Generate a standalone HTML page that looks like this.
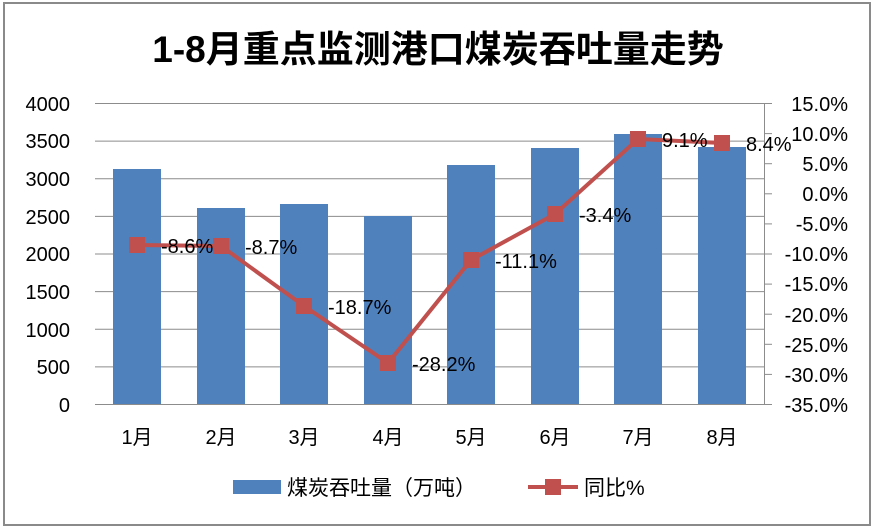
<!DOCTYPE html>
<html><head><meta charset="utf-8"><style>
html,body{margin:0;padding:0;background:#fff;}
svg{display:block;font-family:"Liberation Sans","Noto Sans CJK SC",sans-serif;}
</style></head><body>
<svg width="876" height="530" viewBox="0 0 876 530" xmlns="http://www.w3.org/2000/svg">
<rect x="4" y="3" width="866" height="522" fill="#fff" stroke="#8a8a8a" stroke-width="2"/>
<text x="438" y="62" text-anchor="middle" font-size="37" font-weight="bold" fill="#000">1-8月重点监测港口煤炭吞吐量走势</text>
<g stroke="#8c8c8c" stroke-width="1">
<line x1="95" y1="103.5" x2="764" y2="103.5"/>
<line x1="95" y1="141.1" x2="764" y2="141.1"/>
<line x1="95" y1="178.8" x2="764" y2="178.8"/>
<line x1="95" y1="216.4" x2="764" y2="216.4"/>
<line x1="95" y1="254" x2="764" y2="254"/>
<line x1="95" y1="291.6" x2="764" y2="291.6"/>
<line x1="95" y1="329.2" x2="764" y2="329.2"/>
<line x1="95" y1="366.9" x2="764" y2="366.9"/>
<line x1="95" y1="404.5" x2="764" y2="404.5"/>
<line x1="764.5" y1="103" x2="764.5" y2="404"/>
</g>
<g stroke="#8c8c8c" stroke-width="1">
<line x1="764" y1="103.5" x2="772" y2="103.5"/><line x1="764" y1="133.6" x2="772" y2="133.6"/>
<line x1="764" y1="163.7" x2="772" y2="163.7"/><line x1="764" y1="193.8" x2="772" y2="193.8"/>
<line x1="764" y1="223.9" x2="772" y2="223.9"/><line x1="764" y1="254" x2="772" y2="254"/>
<line x1="764" y1="284.1" x2="772" y2="284.1"/><line x1="764" y1="314.2" x2="772" y2="314.2"/>
<line x1="764" y1="344.3" x2="772" y2="344.3"/><line x1="764" y1="374.4" x2="772" y2="374.4"/>
<line x1="764" y1="404.5" x2="772" y2="404.5"/>
</g>
<g fill="#4f81bd">
<rect x="113" y="169" width="48" height="235"/>
<rect x="197" y="208" width="48" height="196"/>
<rect x="280" y="204" width="48" height="200"/>
<rect x="364" y="216" width="48" height="188"/>
<rect x="447" y="165" width="48" height="239"/>
<rect x="531" y="148" width="48" height="256"/>
<rect x="614" y="134" width="48" height="270"/>
<rect x="698" y="147" width="48" height="257"/>
</g>
<g font-size="20" fill="#000" text-anchor="end">
<text x="70" y="111">4000</text><text x="70" y="148">3500</text><text x="70" y="186">3000</text>
<text x="70" y="224">2500</text><text x="70" y="261">2000</text><text x="70" y="299">1500</text>
<text x="70" y="337">1000</text><text x="70" y="374">500</text><text x="70" y="412">0</text>
</g>
<g font-size="20" fill="#000" text-anchor="end">
<text x="848" y="111">15.0%</text><text x="848" y="141">10.0%</text><text x="848" y="171">5.0%</text>
<text x="848" y="201">0.0%</text><text x="848" y="231">-5.0%</text><text x="848" y="261">-10.0%</text>
<text x="848" y="291">-15.0%</text><text x="848" y="322">-20.0%</text><text x="848" y="352">-25.0%</text>
<text x="848" y="382">-30.0%</text><text x="848" y="412">-35.0%</text>
</g>
<g font-size="20" fill="#000" text-anchor="middle">
<text x="137" y="444">1月</text><text x="221" y="444">2月</text><text x="304" y="444">3月</text><text x="388" y="444">4月</text>
<text x="471" y="444">5月</text><text x="555" y="444">6月</text><text x="638" y="444">7月</text><text x="722" y="444">8月</text>
</g>
<polyline fill="none" stroke="#c0504d" stroke-width="4" points="137,245 221,246 304,306 388,363 471,260 555,214 638,139 722,143"/>
<g fill="#c0504d">
<rect x="129" y="237" width="16" height="16"/><rect x="213" y="238" width="16" height="16"/>
<rect x="296" y="298" width="16" height="16"/><rect x="380" y="355" width="16" height="16"/>
<rect x="463" y="252" width="16" height="16"/><rect x="547" y="206" width="16" height="16"/>
<rect x="630" y="131" width="16" height="16"/><rect x="714" y="135" width="16" height="16"/>
</g>
<g font-size="20" fill="#000">
<text x="161" y="253">-8.6%</text><text x="245" y="254">-8.7%</text><text x="328" y="314">-18.7%</text>
<text x="412" y="371">-28.2%</text><text x="495" y="268">-11.1%</text><text x="579" y="222">-3.4%</text>
<text x="662" y="147">9.1%</text><text x="746" y="151">8.4%</text>
</g>
<rect x="233" y="480" width="48" height="14" fill="#4f81bd"/>
<text x="287" y="495" font-size="21" fill="#000">煤炭吞吐量（万吨）</text>
<line x1="528" y1="487" x2="578" y2="487" stroke="#c0504d" stroke-width="4"/>
<rect x="545" y="479" width="16" height="16" fill="#c0504d"/>
<text x="584" y="495" font-size="21" fill="#000">同比%</text>
</svg>
</body></html>
